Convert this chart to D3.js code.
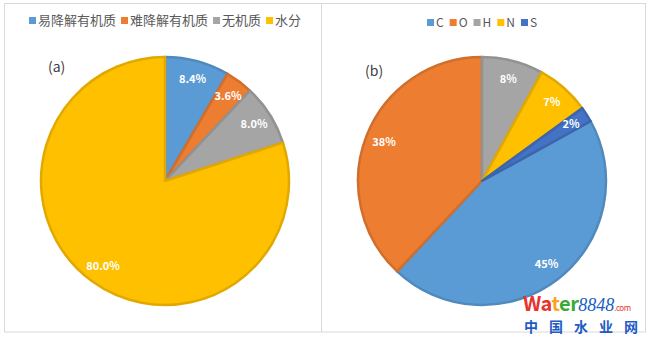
<!DOCTYPE html>
<html>
<head>
<meta charset="utf-8">
<script src="https://cdn.jsdelivr.net/npm/d3@7"></script>
<style>
  body { margin: 0; background: #fff; }
  text { font-family: "Noto Sans CJK SC", "Open Sans", sans-serif; }
</style>
</head>
<body>
<script>
var width = 651,
    height = 341;

// panel (a): composition
var catsA = ["易降解有机质", "难降解有机质", "无机质", "水分"];
var valsA = [8.4, 3.6, 8.0, 80.0];
var labelsA = ["8.4%", "3.6%", "8.0%", "80.0%"];
var colorsA = ["#5B9BD5", "#ED7D31", "#A5A5A5", "#FFC000"];

// panel (b): elements
var catsB = ["C", "O", "H", "N", "S"];
var valsB = [45, 38, 8, 7, 2];
var labelsB = ["45%", "38%", "8%", "7%", "2%"];
var colorsB = ["#5B9BD5", "#ED7D31", "#A5A5A5", "#FFC000", "#4472C4"];

var svg = d3.select("body").append("svg")
    .attr("width", width)
    .attr("height", height);

// panel frames
svg.append("rect").attr("x", 4.5).attr("y", 3.5).attr("width", 641).attr("height", 328.5)
    .attr("fill", "none").attr("stroke", "#d9d9d9");
svg.append("line").attr("x1", 321.5).attr("x2", 321.5).attr("y1", 3.5).attr("y2", 332)
    .attr("stroke", "#d9d9d9");

function drawPie(cx, cy, r, vals, labels, colors, start, labelR) {
  var pie = d3.pie().sort(null)
      .startAngle(start).endAngle(start + 2 * Math.PI);
  var arc = d3.arc().innerRadius(0).outerRadius(r);
  var lab = d3.arc().innerRadius(r * labelR).outerRadius(r * labelR);
  var g = svg.append("g").attr("transform", "translate(" + cx + "," + cy + ")");
  var arcs = pie(vals);
  g.selectAll("path")
      .data(arcs)
    .enter().append("path")
      .attr("d", arc)
      .attr("fill", function(d, i) { return colors[i]; })
      .attr("stroke", function(d, i) { return d3.color(colors[i]).darker(0.35); })
      .attr("stroke-width", 2.5)
      .attr("stroke-linejoin", "round");
  g.selectAll("text")
      .data(arcs)
    .enter().append("text")
      .attr("transform", function(d) { return "translate(" + lab.centroid(d) + ")"; })
      .attr("text-anchor", "middle")
      .attr("dy", ".35em")
      .attr("fill", "#fff")
      .attr("font-size", 11)
      .attr("font-weight", "bold")
      .text(function(d, i) { return labels[i]; });
}

function drawLegend(x, y, cats, colors, size, gap) {
  var g = svg.append("g").attr("transform", "translate(" + x + "," + y + ")");
  var off = 0;
  cats.forEach(function(c, i) {
    g.append("rect").attr("x", off).attr("y", -4).attr("width", 7).attr("height", 7)
        .attr("fill", colors[i]);
    var t = g.append("text").attr("x", off + 9).attr("dy", ".32em")
        .attr("font-size", size).attr("fill", "#595959").text(c);
    off += 9 + t.node().getComputedTextLength() + gap;
  });
}

drawPie(165, 181, 124, valsA, labelsA, colorsA, 0, 0.85);
drawPie(482, 181, 124, valsB, labelsB, colorsB, 0.17 * 2 * Math.PI, 0.85);

drawLegend(29, 21, catsA, colorsA, 13, 5);
drawLegend(427, 23, catsB, colorsB, 12, 6);

svg.append("text").attr("x", 48).attr("y", 72).attr("font-size", 14).attr("fill", "#404040").text("(a)");
svg.append("text").attr("x", 365).attr("y", 76).attr("font-size", 14).attr("fill", "#404040").text("(b)");

// watermark
var wm = svg.append("text").attr("x", 523).attr("y", 311).attr("font-size", 20).attr("font-weight", "bold")
    .attr("font-family", "Liberation Sans, Arial, sans-serif").attr("letter-spacing", "-0.5px");
[["W", "#e8322d"], ["a", "#e8322d"], ["t", "#f5a623"], ["e", "#3aa935"], ["r", "#3aa935"]].forEach(function(p) {
  wm.append("tspan").attr("fill", p[1]).text(p[0]);
});
wm.append("tspan").attr("fill", "#2060c0").attr("font-weight", "normal").attr("font-style", "italic")
    .attr("font-family", "Liberation Serif, serif").attr("font-size", 18).attr("letter-spacing", "0px").text("8848");
wm.append("tspan").attr("fill", "#e8322d").attr("font-weight", "normal").attr("font-size", 8).text(".com");
svg.append("text").attr("x", 524).attr("y", 332).attr("font-size", 14).attr("font-weight", "bold")
    .attr("fill", "#1e5bc6").attr("letter-spacing", "11px").text("中国水业网");
</script>
</body>
</html>
